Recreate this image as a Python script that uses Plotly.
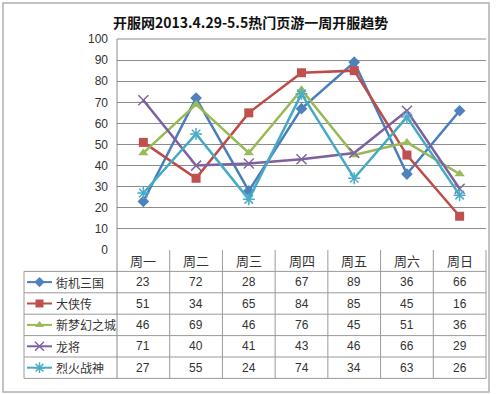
import plotly.graph_objects as go

W, H = 500, 394
categories = ["周一", "周二", "周三", "周四", "周五", "周六", "周日"]
series_names = ["街机三国", "大侠传", "新梦幻之城", "龙将", "烈火战神"]
jieji = [23, 72, 28, 67, 89, 36, 66]
daxia = [51, 34, 65, 84, 85, 45, 16]
menghuan = [46, 69, 46, 76, 45, 51, 36]
longjiang = [71, 40, 41, 43, 46, 66, 29]
liehuo = [27, 55, 24, 74, 34, 63, 26]
series_values = [jieji, daxia, menghuan, longjiang, liehuo]
y_ticks = list(range(0, 101, 10))
title_text = "开服网2013.4.29-5.5热门页游一周开服趋势"

colors = ["#4A7EBB", "#BE4B48", "#98B954", "#7D60A0", "#46AAC5"]
mcolors = ["#4F81BD", "#C0504D", "#9BBB59", "#8064A2", "#4BACC6"]
symbols = ["diamond", "square", "triangle-up", "x-thin-open", "asterisk-open"]
msizes = [9, 9, 9, 10, 10]

# layout geometry in pixels
PL, PR, PT, PB = 117, 486, 39, 250
TL = 24
row_h = 21.4
n_rows = len(series_names)

def fx(px):
    return px / W

def fy(py):
    return 1 - py / H

fig = go.Figure()

for i, (name, vals) in enumerate(zip(series_names, series_values)):
    sym = symbols[i]
    marker = dict(symbol=sym, size=msizes[i], color=mcolors[i])
    if "open" in sym:
        marker["line"] = dict(color=colors[i], width=1.5)
    fig.add_trace(go.Scatter(
        x=categories, y=vals, mode="lines+markers", name=name,
        line=dict(color=colors[i], width=2.5), marker=marker,
        showlegend=False, xaxis="x", yaxis="y", cliponaxis=False))

# legend samples in table (overlay pixel axes)
for i in range(n_rows):
    yc = PB + row_h * (i + 1.5)
    sym = symbols[i]
    marker = dict(symbol=sym, size=msizes[i] - 1, color=mcolors[i])
    if "open" in sym:
        marker["line"] = dict(color=colors[i], width=1.5)
    fig.add_trace(go.Scatter(x=[27, 52], y=[yc, yc], mode="lines",
                             line=dict(color=colors[i], width=2),
                             showlegend=False, xaxis="x2", yaxis="y2", hoverinfo="skip"))
    fig.add_trace(go.Scatter(x=[39.5], y=[yc], mode="markers", marker=marker,
                             showlegend=False, xaxis="x2", yaxis="y2", hoverinfo="skip"))

shapes = []
grid_c = "#8C8C8C"
tbl_c = "#9A9A9A"
# outer border
shapes.append(dict(type="rect", xref="paper", yref="paper", x0=fx(3), x1=fx(489), y0=fy(3), y1=fy(392),
                   line=dict(color="#B0B0B0", width=1.5)))
# table horizontal lines
table_bottom = PB + row_h * (n_rows + 1)
for r in range(1, n_rows + 2):
    py = PB + row_h * r
    shapes.append(dict(type="line", xref="paper", yref="paper", x0=fx(TL), x1=fx(PR), y0=fy(py), y1=fy(py),
                       line=dict(color=tbl_c, width=1)))
# vertical lines
col_w = (PR - PL) / len(categories)
shapes.append(dict(type="line", xref="paper", yref="paper", x0=fx(TL), x1=fx(TL), y0=fy(PB + row_h), y1=fy(table_bottom),
                   line=dict(color=tbl_c, width=1)))
for c in range(len(categories) + 1):
    px = PL + col_w * c
    y0 = PT if c == 0 else PB
    shapes.append(dict(type="line", xref="paper", yref="paper", x0=fx(px), x1=fx(px), y0=fy(y0), y1=fy(table_bottom),
                       line=dict(color=tbl_c if c else grid_c, width=1)))

annotations = []
annotations.append(dict(text="<b>" + title_text + "</b>", xref="paper", yref="paper", x=fx(250), y=fy(22),
                        showarrow=False, xanchor="center", yanchor="middle",
                        font=dict(family="Noto Sans CJK SC", size=14, color="#111")))
tfont = dict(family="Noto Sans CJK SC, Liberation Sans", size=12, color="#333")
hfont = dict(family="Noto Sans CJK SC, Liberation Sans", size=13, color="#333")
for c, cat in enumerate(categories):
    annotations.append(dict(text=cat, xref="paper", yref="paper", x=fx(PL + col_w * (c + 0.5)), y=fy(PB + row_h * 0.5),
                            showarrow=False, xanchor="center", yanchor="middle", font=hfont))
for r, (name, vals) in enumerate(zip(series_names, series_values)):
    yc = PB + row_h * (r + 1.5)
    annotations.append(dict(text=name, xref="paper", yref="paper", x=fx(54), y=fy(yc),
                            showarrow=False, xanchor="left", yanchor="middle", font=tfont))
    for c, v in enumerate(vals):
        annotations.append(dict(text=str(v), xref="paper", yref="paper", x=fx(PL + col_w * (c + 0.5)), y=fy(yc),
                                showarrow=False, xanchor="center", yanchor="middle",
                                font=dict(family="Liberation Sans", size=12, color="#333")))

fig.update_layout(
    width=W, height=H, margin=dict(l=0, r=0, t=0, b=0),
    paper_bgcolor="white", plot_bgcolor="rgba(0,0,0,0)",
    xaxis=dict(domain=[fx(PL), fx(PR)], showticklabels=False, showgrid=False, zeroline=False,
               range=[-0.5, 6.5], type="category", fixedrange=True, anchor="y"),
    yaxis=dict(domain=[fy(PB), fy(PT)], range=[0, 100], tickvals=y_ticks, showgrid=True,
               gridcolor=grid_c, gridwidth=1, zeroline=False, showline=False,
               ticks="", ticklabelstandoff=8, automargin=False, anchor="x",
               tickfont=dict(family="Liberation Sans", size=12, color="#333")),
    xaxis2=dict(domain=[0, 1], range=[0, W], visible=False, anchor="y2", fixedrange=True),
    yaxis2=dict(domain=[0, 1], range=[H, 0], visible=False, anchor="x2", fixedrange=True),
    shapes=shapes, annotations=annotations,
)
fig.add_shape(type="line", xref="paper", yref="paper", x0=fx(PL), x1=fx(PR), y0=fy(PT), y1=fy(PT),
              line=dict(color=grid_c, width=1), layer="below")
fig.write_html("out.html")
